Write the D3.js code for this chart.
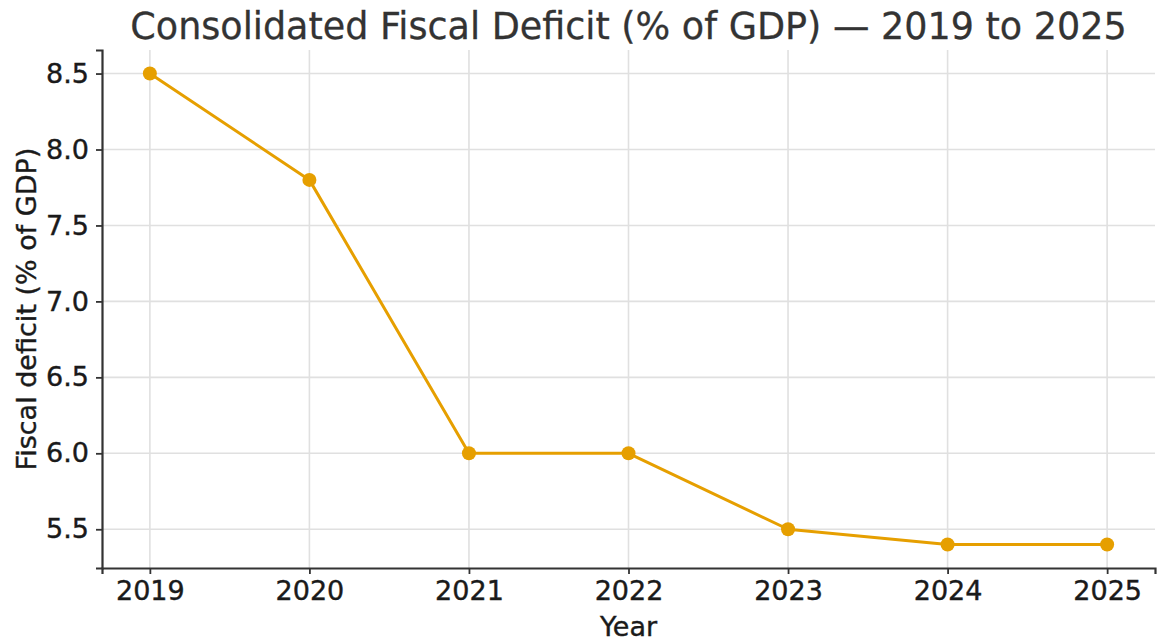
<!DOCTYPE html>
<html>
<head>
<meta charset="utf-8">
<script src="https://cdn.jsdelivr.net/npm/d3@7"></script>
<style>
  html, body { margin: 0; padding: 0; background: #fff; }
  svg { display: block; font-family: "DejaVu Sans", sans-serif; }
</style>
</head>
<body>
<svg id="chart" width="1157" height="642"></svg>
<script>
const years = [2019, 2020, 2021, 2022, 2023, 2024, 2025];
const deficit = [8.5, 7.8, 6.0, 6.0, 5.5, 5.4, 5.4];
const yTicks = [5.5, 6.0, 6.5, 7.0, 7.5, 8.0, 8.5];
const titleText = "Consolidated Fiscal Deficit (% of GDP) — 2019 to 2025";
const xLabel = "Year";
const yLabel = "Fiscal deficit (% of GDP)";

const W = 1157, H = 642;
const margin = { left: 102, right: 2, top: 50, bottom: 74 };
const svg = d3.select("#chart");
const iw = W - margin.left - margin.right;
const ih = H - margin.top - margin.bottom;
const g = svg.append("g").attr("transform", `translate(${margin.left},${margin.top})`);

const xMin = d3.min(years), xMax = d3.max(years);
const xPad = (xMax - xMin) * 0.05;
const x = d3.scaleLinear().domain([xMin - xPad, xMax + xPad]).range([0, iw]);
const yMin = d3.min(deficit), yMax = d3.max(deficit);
const yPad = (yMax - yMin) * 0.05;
const y = d3.scaleLinear().domain([yMin - yPad, yMax + yPad]).range([ih, 0]);

// grid
g.append("g").selectAll("line").data(years).join("line")
  .attr("x1", d => x(d)).attr("x2", d => x(d)).attr("y1", 0).attr("y2", ih)
  .attr("stroke", "#e0e0e0").attr("stroke-width", 1.6);
g.append("g").selectAll("line").data(yTicks).join("line")
  .attr("x1", 0).attr("x2", iw).attr("y1", d => y(d)).attr("y2", d => y(d))
  .attr("stroke", "#e0e0e0").attr("stroke-width", 1.6);

// axes
const xAxis = g.append("g").attr("transform", `translate(0,${ih})`)
  .call(d3.axisBottom(x).tickValues(years).tickFormat(d3.format("d")).tickSize(6).tickPadding(7));
const yAxis = g.append("g")
  .call(d3.axisLeft(y).tickValues(yTicks).tickFormat(d3.format(".1f")).tickSize(6).tickPadding(7));
[xAxis, yAxis].forEach(a => {
  a.select(".domain").attr("stroke", "#333").attr("stroke-width", 2.2);
  a.selectAll(".tick line").attr("stroke", "#333").attr("stroke-width", 1.8);
  a.selectAll(".tick text").attr("fill", "#1a1a1a").attr("stroke", "#1a1a1a").attr("stroke-width", 0.4)
    .style("font-size", "27px").style("font-family", "DejaVu Sans");
});

// line
const line = d3.line().x((d, i) => x(years[i])).y(d => y(d));
g.append("path").datum(deficit)
  .attr("d", line).attr("fill", "none").attr("stroke", "#E69F00").attr("stroke-width", 3)
  .attr("stroke-linejoin", "round");
g.append("g").selectAll("circle").data(deficit).join("circle")
  .attr("cx", (d, i) => x(years[i])).attr("cy", d => y(d)).attr("r", 7)
  .attr("fill", "#E69F00");

// title and labels
svg.append("text").attr("x", margin.left + iw / 2).attr("y", 39)
  .attr("text-anchor", "middle").attr("fill", "#333").attr("stroke", "#333").attr("stroke-width", 0.3)
  .style("font-size", "36.5px")
  .text(titleText);
svg.append("text").attr("x", margin.left + iw / 2).attr("y", 636)
  .attr("text-anchor", "middle").attr("fill", "#1a1a1a").attr("stroke", "#1a1a1a").attr("stroke-width", 0.4)
  .style("font-size", "27px")
  .text(xLabel);
svg.append("text").attr("transform", `translate(36,${margin.top + ih / 2}) rotate(-90)`)
  .attr("text-anchor", "middle").attr("fill", "#1a1a1a").attr("stroke", "#1a1a1a").attr("stroke-width", 0.4)
  .style("font-size", "27px")
  .text(yLabel);
</script>
</body>
</html>
